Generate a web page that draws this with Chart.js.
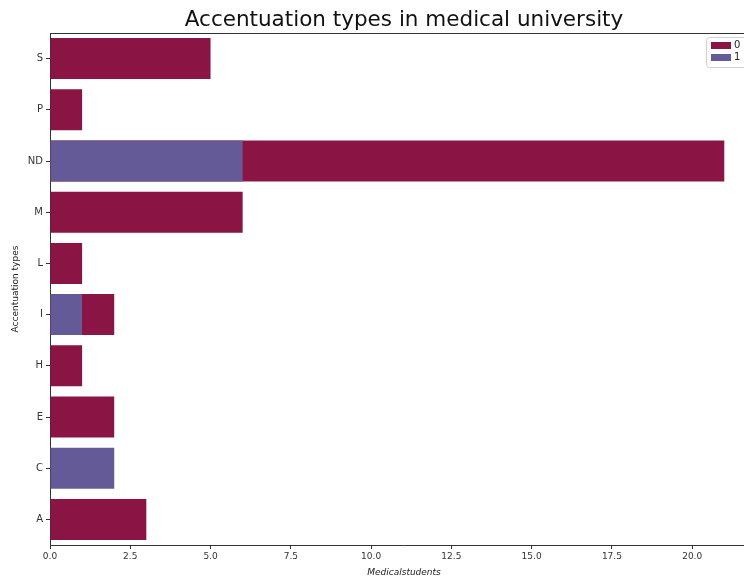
<!DOCTYPE html>
<html>
<head>
<meta charset="utf-8">
<script src="https://cdn.jsdelivr.net/npm/chart.js@4.4.1/dist/chart.umd.min.js"></script>
<style>
  html, body { margin: 0; padding: 0; background: #fff; overflow: hidden; }
  #wrap { width: 802px; height: 578px; }
</style>
</head>
<body>
<div id="wrap"><canvas id="my_Chart" width="802" height="578"></canvas></div>
<script>
// categories, top to bottom
var Labels = ['S', 'P', 'ND', 'M', 'L', 'I', 'H', 'E', 'C', 'A'];
// series "0" and "1" (drawn overlapped, not stacked)
var Values0 = [5, 1, 21, 6, 1, 2, 1, 2, null, 3];
var Values1 = [null, null, 6, null, null, 1, null, null, 2, null];
var seriesNames = ['0', '1'];
var Colors = ['#8a1443', '#655a98'];
var xTicks = [0, 2.5, 5, 7.5, 10, 12.5, 15, 17.5, 20];
var chartTitle = 'Accentuation types in medical university';

var FONT = 'DejaVu Sans';

// title centred on the axes, top spine, boxed legend inside plot area
var framePlugin = {
	id: 'framePlugin',
	afterDraw: function(chart) {
		var c = chart.ctx, a = chart.chartArea;
		c.save();
		c.fillStyle = '#111';
		c.font = '21.5px ' + FONT;
		c.textAlign = 'center';
		c.textBaseline = 'middle';
		c.fillText(chartTitle, (a.left + a.right) / 2, 20);

		c.strokeStyle = '#333';
		c.lineWidth = 1;
		c.beginPath();
		c.moveTo(a.left, a.top + 0.5);
		c.lineTo(a.right, a.top + 0.5);
		c.stroke();

		// legend
		var x = 706, y = 37;
		c.fillStyle = 'rgba(255,255,255,0.85)';
		c.strokeStyle = '#d0d0d0';
		c.beginPath();
		if (c.roundRect) c.roundRect(x + 0.5, y + 0.5, 60, 30, 3); else c.rect(x + 0.5, y + 0.5, 60, 30);
		c.fill();
		c.stroke();
		c.font = '10px ' + FONT;
		c.textAlign = 'left';
		c.textBaseline = 'middle';
		chart.data.datasets.forEach(function(ds, i) {
			var py = y + 8 + i * 12;
			c.fillStyle = Colors[i];
			c.fillRect(x + 5, py - 3, 20, 7);
			c.fillStyle = '#222';
			c.fillText(ds.label, x + 28, py + 0.5);
		});
		c.restore();
	}
};

var ctx = document.getElementById('my_Chart').getContext('2d');
var myChart = new Chart(ctx, {
	type: 'bar',
	data: {
		labels: Labels,
		datasets: [
			{ label: seriesNames[0], data: Values0, backgroundColor: Colors[0], order: 1 },
			{ label: seriesNames[1], data: Values1, backgroundColor: Colors[1], order: 0 }
		]
	},
	options: {
		indexAxis: 'y',
		responsive: false,
		animation: false,
		layout: { padding: { left: 0, right: 44, top: 33, bottom: 0 } },
		datasets: {
			bar: { grouped: false, categoryPercentage: 1, barPercentage: 0.8, borderWidth: 0 }
		},
		plugins: {
			legend: { display: false },
			tooltip: { enabled: false },
			title: { display: false }
		},
		scales: {
			x: {
				type: 'linear',
				min: 0,
				max: 22.05,
				afterFit: function(s) { s.height = 33; },
				afterBuildTicks: function(s) { s.ticks = xTicks.map(function(v) { return { value: v }; }); },
				border: { display: true, color: '#333', width: 1 },
				grid: { drawOnChartArea: false, tickLength: 4, color: '#333' },
				ticks: {
					color: '#333',
					padding: 2,
					maxRotation: 0,
					font: { family: FONT, size: 9 },
					callback: function(v) { return Number(v).toFixed(1); }
				},
				title: {
					display: true,
					text: 'Medicalstudents',
					color: '#222',
					font: { family: FONT, size: 9, style: 'italic' },
					padding: { top: 2, bottom: 0 }
				}
			},
			y: {
				afterFit: function(s) { s.width = 50; },
				border: { display: true, color: '#333', width: 1 },
				grid: { drawOnChartArea: false, offset: false, tickLength: 4, color: '#333' },
				ticks: { color: '#333', padding: 3, font: { family: FONT, size: 10 } },
				title: {
					display: true,
					text: 'Accentuation types',
					color: '#222',
					font: { family: FONT, size: 9 },
					padding: { top: 10, bottom: 0 }
				}
			}
		}
	},
	plugins: [framePlugin]
});
</script>
</body>
</html>
